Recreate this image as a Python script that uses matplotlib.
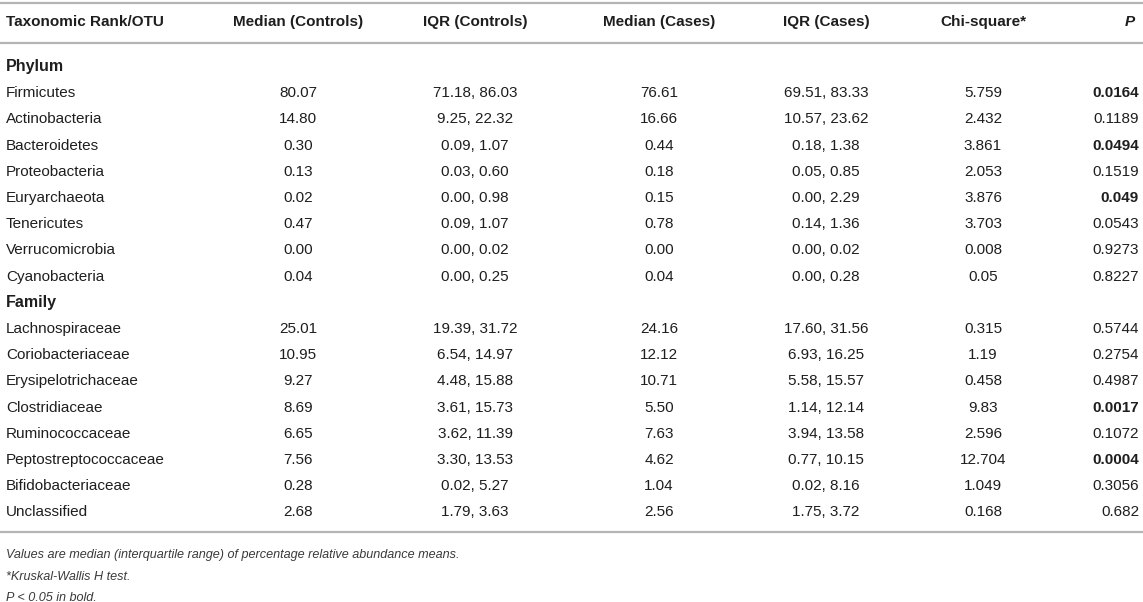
import matplotlib
matplotlib.use("Agg")
import matplotlib.pyplot as plt

plt.rcParams['font.family'] = ['Liberation Sans', 'DejaVu Sans']

# table contents
headers = ["Taxonomic Rank/OTU", "Median (Controls)", "IQR (Controls)", "Median (Cases)",
           "IQR (Cases)", "Chi-square*", "P"]

phylum_names = ["Firmicutes", "Actinobacteria", "Bacteroidetes", "Proteobacteria",
                "Euryarchaeota", "Tenericutes", "Verrucomicrobia", "Cyanobacteria"]
phylum_med_ctrl = ["80.07", "14.80", "0.30", "0.13", "0.02", "0.47", "0.00", "0.04"]
phylum_iqr_ctrl = ["71.18, 86.03", "9.25, 22.32", "0.09, 1.07", "0.03, 0.60",
                   "0.00, 0.98", "0.09, 1.07", "0.00, 0.02", "0.00, 0.25"]
phylum_med_case = ["76.61", "16.66", "0.44", "0.18", "0.15", "0.78", "0.00", "0.04"]
phylum_iqr_case = ["69.51, 83.33", "10.57, 23.62", "0.18, 1.38", "0.05, 0.85",
                   "0.00, 2.29", "0.14, 1.36", "0.00, 0.02", "0.00, 0.28"]
phylum_chi = ["5.759", "2.432", "3.861", "2.053", "3.876", "3.703", "0.008", "0.05"]
phylum_p = ["0.0164", "0.1189", "0.0494", "0.1519", "0.049", "0.0543", "0.9273", "0.8227"]

family_names = ["Lachnospiraceae", "Coriobacteriaceae", "Erysipelotrichaceae", "Clostridiaceae",
                "Ruminococcaceae", "Peptostreptococcaceae", "Bifidobacteriaceae", "Unclassified"]
family_med_ctrl = ["25.01", "10.95", "9.27", "8.69", "6.65", "7.56", "0.28", "2.68"]
family_iqr_ctrl = ["19.39, 31.72", "6.54, 14.97", "4.48, 15.88", "3.61, 15.73",
                   "3.62, 11.39", "3.30, 13.53", "0.02, 5.27", "1.79, 3.63"]
family_med_case = ["24.16", "12.12", "10.71", "5.50", "7.63", "4.62", "1.04", "2.56"]
family_iqr_case = ["17.60, 31.56", "6.93, 16.25", "5.58, 15.57", "1.14, 12.14",
                   "3.94, 13.58", "0.77, 10.15", "0.02, 8.16", "1.75, 3.72"]
family_chi = ["0.315", "1.19", "0.458", "9.83", "2.596", "12.704", "1.049", "0.168"]
family_p = ["0.5744", "0.2754", "0.4987", "0.0017", "0.1072", "0.0004", "0.3056", "0.682"]

footnotes = ["Values are median (interquartile range) of percentage relative abundance means.",
             "*Kruskal-Wallis H test.",
             "P < 0.05 in bold."]

# layout (pixel coordinates)
W, H = 1143, 602
col_x = [6, 298, 475, 659, 826, 983, 1139]
col_ha = ["left", "center", "center", "center", "center", "center", "right"]
row_h = 26.2
text_col = "#1e1e1e"
line_col = "#b4b4b4"
fs = 11

fig = plt.figure(figsize=(W / 100, H / 100), dpi=100)
ax = fig.add_axes([0, 0, 1, 1])
ax.set_xlim(0, W)
ax.set_ylim(H, 0)
ax.axis("off")

# rules
for yl in [3, 43, 532]:
    ax.plot([0, W], [yl, yl], color=line_col, lw=1.6, solid_capstyle="butt")

# header
for i, h in enumerate(headers):
    style = "italic" if h == "P" else "normal"
    ax.text(col_x[i] - (4 if h == "P" else 0), 22, h, ha=col_ha[i], va="center",
            fontsize=fs, fontweight="bold", style=style, color=text_col)


def draw_section(y0, title, names, cols, pvals):
    ax.text(col_x[0], y0, title, ha="left", va="center", fontsize=fs + 0.5,
            fontweight="bold", color=text_col)
    for r, name in enumerate(names):
        y = y0 + (r + 1) * row_h
        vals = [name] + [c[r] for c in cols] + [pvals[r]]
        for i, v in enumerate(vals):
            weight = "normal"
            if i == 6 and float(v) < 0.05:
                weight = "bold"
            ax.text(col_x[i], y, v, ha=col_ha[i], va="center", fontsize=fs,
                    fontweight=weight, color=text_col)
    return y0 + (len(names) + 1) * row_h


y_next = draw_section(67, "Phylum", phylum_names,
                      [phylum_med_ctrl, phylum_iqr_ctrl, phylum_med_case, phylum_iqr_case, phylum_chi],
                      phylum_p)
draw_section(y_next, "Family", family_names,
             [family_med_ctrl, family_iqr_ctrl, family_med_case, family_iqr_case, family_chi],
             family_p)

for k, note in enumerate(footnotes):
    ax.text(6, 555 + k * 21.5, note, ha="left", va="center", fontsize=9.1,
            style="italic", color="#3a3a3a")

fig.savefig("out.png", dpi=100)
